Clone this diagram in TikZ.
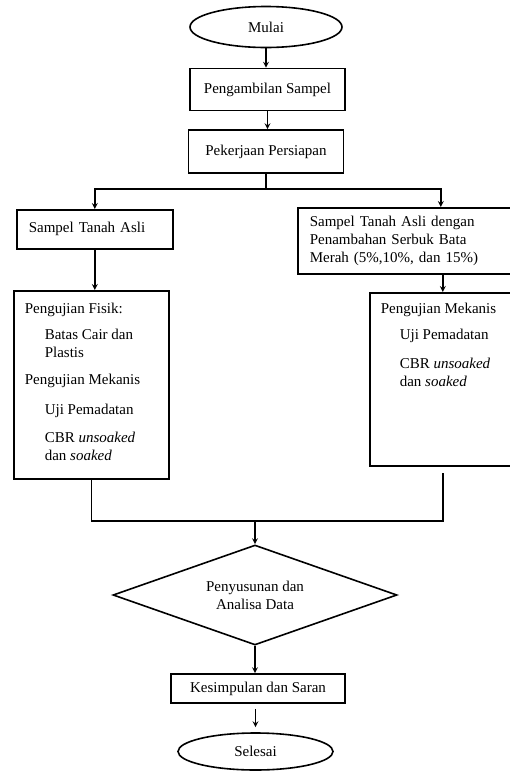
\documentclass[tikz,border=0pt]{standalone}
\usepackage{fontspec}
\setmainfont{Liberation Serif}
\usetikzlibrary{
  shapes.geometric,
  positioning,
}
\tikzset{
  terminal/.style={
    ellipse,
    inner sep=0pt,
    text centered,
    draw=black,
    line width=1.6pt
  },
  proses/.style={
    rectangle,
    inner sep=0pt,
    text centered,
    draw=black,
    line width=1.6pt
  },
  isian/.style={
    rectangle,
    anchor=north west,
    inner xsep=11pt,
    inner ysep=0pt,
    align=left,
    draw=black,
    line width=1.6pt
  },
  keputusan/.style={
    diamond,
    aspect=2.84,
    inner sep=0pt,
    align=center,
    draw=black,
    line width=1.6pt
  },
  arrow/.style={
    line width=1.6pt, ->,
    >=stealth,
  },
  garis/.style={
    line width=1.6pt,
  },
}

\begin{document}
\begin{tikzpicture}[
    x=1pt, y=-1pt,
    font=\fontsize{15}{18}\selectfont,
  ]
  \useasboundingbox (0,0) rectangle (510,772);

  % Awal
  \node (mulai) [terminal, minimum width=152pt, minimum height=41pt] at (266,27) {Mulai};
  \node (ambil) [proses, minimum width=155pt, minimum height=42pt] at (267.5,89.5) {Pengambilan Sampel};
  \node (siap) [proses, minimum width=155pt, minimum height=43pt] at (266,151.5) {Pekerjaan Persiapan};

  % Sampel
  \node (asli) [isian, inner xsep=12pt, text width=132pt, minimum height=39pt] at (16,209) {Sampel Tanah Asli};
  \node (bata) [isian, inner xsep=12pt, text width=194pt, minimum height=66pt] at (297,207)
    {Sampel Tanah Asli dengan\\ Penambahan Serbuk Bata\\ Merah (5\%,10\%, dan 15\%)};

  % Pengujian
  \node (fisik) [isian, minimum width=155pt, minimum height=188pt] at (13,290) {%
    \parbox[c][164pt][t]{133pt}{%
      Pengujian Fisik:\\[8pt]
      \hspace*{20pt}Batas Cair dan\\
      \hspace*{20pt}Plastis\\[9pt]
      Pengujian Mekanis\\[12pt]
      \hspace*{20pt}Uji Pemadatan\\[10pt]
      \hspace*{20pt}CBR \textit{unsoaked}\\
      \hspace*{20pt}dan \textit{soaked}}};
  \node (mek) [isian, minimum width=146pt, minimum height=173pt] at (369,292) {%
    \parbox[c][153pt][t]{124pt}{%
      Pengujian Mekanis\\[8pt]
      \hspace*{19pt}Uji Pemadatan\\[11pt]
      \hspace*{19pt}CBR \textit{unsoaked}\\
      \hspace*{19pt}dan \textit{soaked}}};

  % Akhir
  \node (analisa) [keputusan, minimum width=284pt, minimum height=100pt] at (255,595) {Penyusunan dan\\Analisa Data};
  \node (kes) [proses, minimum width=174pt, minimum height=29pt] at (258,688.5) {Kesimpulan dan Saran};
  \node (selesai) [terminal, minimum width=155pt, minimum height=37pt] at (255.5,751.5) {Selesai};

  % Arrows
  \coordinate (pisah) at (266,189);
  \coordinate (gabung) at (255,521);
  \draw [arrow] (mulai.south) -- (mulai.south |- ambil.north);
  \draw [arrow] (ambil.south) -- (ambil.south |- siap.north);
  \draw [garis] (siap.south) -- (pisah);
  \draw [arrow] (pisah) -| (asli.north);
  \draw [arrow] (pisah) -| ([xshift=34pt]bata.north);
  \draw [arrow] (asli.south) -- (asli.south |- fisik.north);
  \draw [arrow] (mek.north |- bata.south) -- (mek.north);
  \draw [garis] (fisik.south) |- (gabung) -| ([yshift=-6pt]mek.south);
  \draw [arrow] (gabung) -- (analisa.north);
  \draw [arrow] (analisa.south) -- (analisa.south |- kes.north);
  \draw [arrow, shorten <=5pt, shorten >=5pt] (kes.south -| selesai.north) -- (selesai.north);

\end{tikzpicture}
\end{document}
